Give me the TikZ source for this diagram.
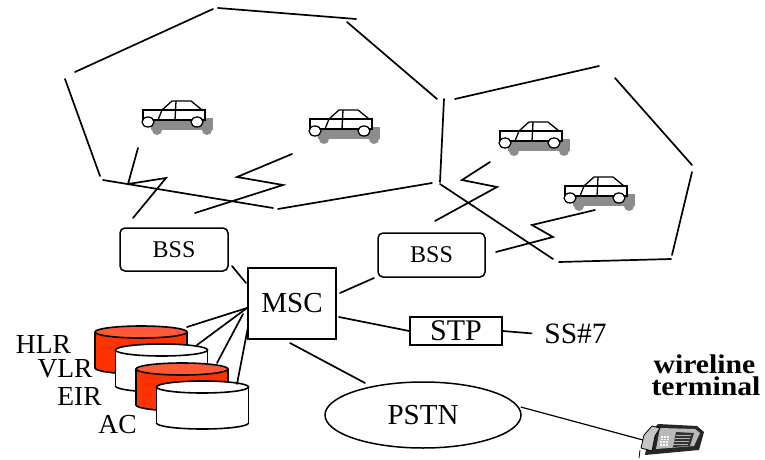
\documentclass[tikz,border=0pt]{standalone}
\usepackage{fontspec}
\setmainfont{Liberation Serif}
\newfontfamily\widebold[FakeStretch=1.1]{Liberation Serif Bold}
\usetikzlibrary{shapes.geometric}
\definecolor{dbred}{HTML}{FF3300}
\definecolor{dbredtop}{HTML}{FF5A36}
\definecolor{shadowgray}{HTML}{8C8C8C}

% database cylinder: centre x, top y, body colour, lid colour
\newcommand\dbcyl[4]{%
  \fill[#3] (#1-46,#2) rectangle (#1+46,#2+36);
  \fill[#3] (#1,#2+36) ellipse [x radius=46, y radius=6];
  \begin{scope}
    \clip (#1-50,#2+36) rectangle (#1+50,#2+46);
    \draw (#1,#2+36) ellipse [x radius=46, y radius=6];
  \end{scope}
  \draw (#1-46,#2) -- (#1-46,#2+36) (#1+46,#2) -- (#1+46,#2+36);
  \draw[fill=#4] (#1,#2) ellipse [x radius=46, y radius=6];
}

\tikzset{
  link/.style={line width=1.7pt, line cap=round},
  cell/.style={line width=1.7pt, line cap=round},
  bssbox/.style={draw, line width=1.5pt, rounded corners=5pt, fill=white,
    minimum width=108pt, minimum height=43pt, font=\fontsize{24}{28}\selectfont},
  sqbox/.style={draw, line width=1.5pt, fill=white, inner sep=0pt},
  lbl/.style={font=\fontsize{27.5}{30}\selectfont, inner sep=0pt, anchor=base},
  boldlbl/.style={font=\widebold\fontsize{27}{30}\selectfont, inner sep=0pt,
    anchor=base, text height=0.7em, text depth=0pt},
  car/.pic={
    \fill[shadowgray] (8,8) rectangle (70,20);
    \fill[shadowgray] (14,20) circle (5);
    \fill[shadowgray] (64,20) circle (5);
    \draw[line width=1.3pt, fill=white] (0,0) rectangle (62,10);
    \draw[line width=1.3pt, line join=round] (19,0) -- (29,-9) -- (48,-9) -- (59,0);
    \draw[line width=1.3pt] (19,0) -- (15,10) (33,-9) -- (32,10);
    \draw[line width=1.3pt, fill=white] (5,12) ellipse [x radius=6, y radius=5];
    \draw[line width=1.3pt, fill=white] (54,12) ellipse [x radius=6, y radius=5];
  }
}

\begin{document}
\begin{tikzpicture}[x=1pt, y=-1pt, line width=1.6pt]
\useasboundingbox (0,0) rectangle (765,460);

% radio cells
\draw[cell] (75,72) -- (213,9);
\draw[cell] (218,8) -- (356,19);
\draw[cell] (347,22) -- (437,99);
\draw[cell] (444,99) -- (440,182);
\draw[cell] (432,183) -- (278,209);
\draw[cell] (273,208) -- (103,180);
\draw[cell] (100,176) -- (65,79);
\draw[cell] (455,99) -- (599,66);
\draw[cell] (615,78) -- (692,165);
\draw[cell] (692,172) -- (672,255);
\draw[cell] (671,259) -- (559,262);
\draw[cell] (553,259) -- (440,184);

% mobile stations
\pic at (143,110) {car};
\pic at (310,119) {car};
\pic at (500,131) {car};
\pic at (565,186) {car};

% radio links
\coordinate (m1) at (138,148);
\coordinate (m2) at (292,154);
\coordinate (m3) at (490,162);
\coordinate (m4) at (595,210);
\coordinate (a1) at (133,218);
\coordinate (a2) at (195,213);
\coordinate (a3) at (435,221);
\coordinate (a4) at (496,252);
\draw[link, line join=miter] (m1) -- (128,184) -- (166,178) -- (a1);
\draw[link, line join=miter] (m2) -- (237,177) -- (283,185) -- (a2);
\draw[link, line join=miter] (m3) -- (462,180) -- (497,187) -- (a3);
\draw[link, line join=miter] (m4) -- (532,225) -- (553,237) -- (a4);

% switching nodes
\node[bssbox] (bssL) at (174,249.5) {BSS};
\node[bssbox, minimum width=107pt, minimum height=44pt] (bssR) at (431.5,255) {BSS};
\node[sqbox, minimum width=88pt, minimum height=71pt, font=\fontsize{29}{32}\selectfont] (msc) at (292,303.5) {MSC};
\node[sqbox, minimum width=92pt, minimum height=28pt, font=\fontsize{30}{32}\selectfont] (stp) at (456,331) {STP};
\node[font=\fontsize{29.5}{32}\selectfont, inner sep=0pt, anchor=base] (ss7) at (575.5,343) {SS\#7};
\node[draw, ellipse, line width=1.5pt, minimum width=196pt, minimum height=66pt,
  inner sep=0pt, font=\fontsize{29}{32}\selectfont] (pstn) at (423,415) {PSTN};

% databases
\dbcyl{141}{332}{dbred}{dbredtop}
\dbcyl{161.5}{350}{white}{white}
\dbcyl{182}{369}{dbred}{dbredtop}
\dbcyl{202.5}{387}{white}{white}
\coordinate (hlr) at (187,327);
\coordinate (vlr) at (197,345);
\coordinate (eir) at (217,363);
\coordinate (ac) at (237,384);
\node[lbl] (hlrL) at (43.5,353) {HLR};
\node[lbl] (vlrL) at (65,377) {VLR};
\node[lbl] (eirL) at (79.5,405) {EIR};
\node[lbl] (acL) at (117.5,433) {AC};

% wired links
\coordinate (mb1) at (246,283);
\coordinate (lb1) at (232,266);
\coordinate (mb2) at (340,293);
\coordinate (rb2) at (374,278);
\coordinate (ms) at (339,317);
\coordinate (mp) at (290,343);
\coordinate (pp) at (365,383);
\coordinate (md1) at (247,308);
\coordinate (md3) at (243,314);
\coordinate (md4) at (248,327);
\draw[link] (lb1) -- (mb1);
\draw[link] (mb2) -- (rb2);
\draw[link] (ms) -- (stp.west);
\draw[link] (stp.east) -- ([xshift=-12pt]ss7.west);
\draw[link] (mp) -- (pp);
\draw[link] (hlr) -- (md1);
\draw[link] (vlr) -- (md1);
\draw[link] (eir) -- (md3);
\draw[link] (ac) -- (md4);

% wireline terminal
\node[boldlbl] (wl) at (704.5,373) {wireline};
\node[boldlbl] (wt) at (706,395) {terminal};
\coordinate (phone) at (643,440);
\draw[line width=1.2pt] (pstn.east) ++(-1,-8) -- (phone);
\fill[black!85] (645,455) -- (649,434) -- (658,424) -- (697,426) -- (704,432) -- (699,450) -- cycle;
\fill[gray!55] (660,428) -- (695,429) -- (700,433) -- (694,446) -- (656,449) -- cycle;
\fill[black!80] (676,432) -- (694,433) -- (690,446) -- (673,447) -- cycle;
\foreach \r in {0,1,2,3} \draw[gray!60, line width=0.6pt] (676-\r,435+3*\r) -- (691-\r,435+3*\r);
\foreach \i in {0,1,2} \foreach \j in {0,1,2,3}
  \fill[white] (661+3*\i-0.5*\j,436+2.6*\j) rectangle ++(2,1.8);
\draw[line width=0.8pt, fill=gray!45] (641,448) -- (644,435) -- (652,426) -- (660,428) -- (655,436) -- (652,451) -- cycle;
\draw[line width=0.8pt] (640,450) -- (639,458);
\end{tikzpicture}
\end{document}
